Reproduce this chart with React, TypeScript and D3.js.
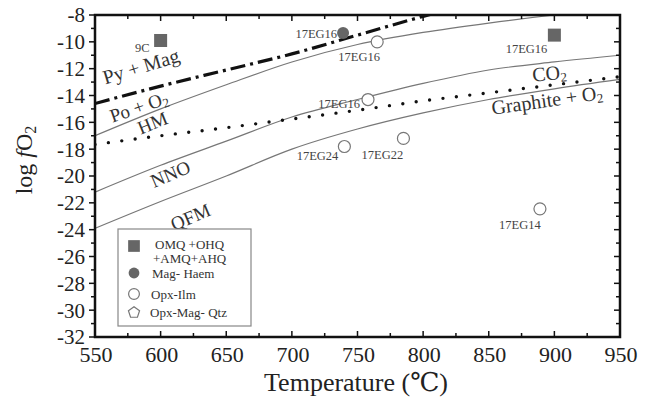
import React from 'react';
import * as d3 from 'd3';

// buffer curves, log fO2 against T (°C)
const temps = [550, 600, 650, 700, 750, 800, 850, 900, 950];
const pyMag = [-14.6, -13.3, -12.1, -10.9, -9.5, -8.1, -6.8];
const hm = [-17.0, -15.0, -13.2, -11.5, -10.2, -9.3, -8.6, -8.0, -7.5];
const graphite = [-17.65, -17.0, -16.4, -15.75, -15.1, -14.4, -13.8, -13.2, -12.6];
const nno = [-21.2, -19.2, -17.4, -15.6, -14.3, -13.1, -12.1, -11.5, -11.0];
const qfm = [-23.9, -21.9, -20.0, -18.0, -16.5, -15.3, -14.3, -13.5, -12.8];

// samples
const sampleT = [600, 900, 739, 765, 758, 740, 785, 889];
const sampleF = [-9.9, -9.5, -9.35, -10.0, -14.3, -17.8, -17.2, -22.45];
const sampleName = ['9C', '17EG16', '17EG16', '17EG16', '17EG16', '17EG24', '17EG22', '17EG14'];
const sampleKind = ['square', 'square', 'filled', 'open', 'open', 'open', 'open', 'open'];

const xTicks = [550, 600, 650, 700, 750, 800, 850, 900, 950];
const yTicks = [-8, -10, -12, -14, -16, -18, -20, -22, -24, -26, -28, -30, -32];

const legendItems = ['square', 'filled', 'open', 'pentagon'];
const legendText = [['OMQ +OHQ', '+AMQ+AHQ'], ['Mag- Haem'], ['Opx-Ilm'], ['Opx-Mag- Qtz']];

// label placement next to each sample marker
const labelDx = [-11, -7, -6, -18, -8, -6, -21, -20];
const labelDy = [12, 18, 5, 19, 8, 14, 21, 20];
const labelAnchor = ['end', 'end', 'end', 'middle', 'end', 'end', 'middle', 'middle'];

const W = 648, H = 404;
const serif = 'Liberation Serif, DejaVu Serif, serif';

export default function App() {
  const x = d3.scaleLinear().domain([550, 950]).range([95, 620]);
  const y = d3.scaleLinear().domain([-32, -8]).range([337, 15]);

  const curve = (vals: number[]) =>
    d3.line<number>()
      .x((_, i) => x(temps[i]))
      .y((d) => y(d))
      .curve(d3.curveMonotoneX)(vals) || '';

  const marker = (kind: string, cx: number, cy: number, key: string, s = 1) => {
    if (kind === 'square')
      return <rect key={key} x={cx - 6.5 * s} y={cy - 6.5 * s} width={13 * s} height={13 * s} fill="#666" />;
    if (kind === 'filled')
      return <circle key={key} cx={cx} cy={cy} r={6 * s} fill="#666" />;
    if (kind === 'open')
      return <circle key={key} cx={cx} cy={cy} r={6 * s} fill="white" stroke="#777" strokeWidth={1.2} />;
    const pts = d3.range(5).map((i) => {
      const a = -Math.PI / 2 + (i * 2 * Math.PI) / 5;
      return [cx + 6.5 * s * Math.cos(a), cy + 6.5 * s * Math.sin(a) + 0.5].join(',');
    });
    return <polygon key={key} points={pts.join(' ')} fill="white" stroke="#777" strokeWidth={1.2} />;
  };

  const minorX = d3.range(550, 951, 25);
  const minorY = d3.range(-32, -7, 1);
  const [x0, x1] = x.range();
  const [y0, y1] = y.range();

  const lineLabel = (txt: React.ReactNode, cx: number, cy: number, ang: number, size: number) => (
    <text x={cx} y={cy} transform={`rotate(${ang},${cx},${cy})`} textAnchor="middle"
      fontSize={size} fill="#333">{txt}</text>
  );

  const legendY = [246, 273, 294, 312];
  const legendTextX = [155, 152, 151, 150];

  return (
    <svg width={W} height={H}
      style={{ position: 'absolute', left: 0, top: 0, background: 'white', fontFamily: serif }}>
      <defs>
        <clipPath id="plot">
          <rect x={x0} y={y1} width={x1 - x0} height={y0 - y1} />
        </clipPath>
      </defs>

      <g clipPath="url(#plot)" fill="none">
        <path d={curve(hm)} stroke="#777" strokeWidth={1.2} />
        <path d={curve(nno)} stroke="#777" strokeWidth={1.2} />
        <path d={curve(qfm)} stroke="#777" strokeWidth={1.2} />
        <path d={curve(graphite)} stroke="#111" strokeWidth={3.4} strokeDasharray="0,13.5" strokeLinecap="round" />
        <path d={curve(pyMag)} stroke="#111" strokeWidth={3.2} strokeDasharray="15,5,3,5" />
      </g>

      {lineLabel('Py + Mag', 143, 73, -17, 20)}
      {lineLabel(<>Po + O<tspan fontSize={13} dy={3}>2</tspan></>, 141, 113, -19, 19)}
      {lineLabel('HM', 155, 129, -22, 19)}
      {lineLabel('NNO', 173, 180, -23, 19)}
      {lineLabel('QFM', 193, 223, -23, 19)}
      {lineLabel(<>CO<tspan fontSize={13} dy={3}>2</tspan></>, 550, 80, -6, 20)}
      {lineLabel(<>Graphite + O<tspan fontSize={13} dy={3}>2</tspan></>, 548, 107, -8, 20)}

      {sampleT.map((t, i) => (
        <g key={'s' + i}>
          {marker(sampleKind[i], x(t), y(sampleF[i]), 'm' + i)}
          <text x={x(t) + labelDx[i]} y={y(sampleF[i]) + labelDy[i]} textAnchor={labelAnchor[i]}
            fontSize={12.5} fill="#444">{sampleName[i]}</text>
        </g>
      ))}

      {/* frame and ticks */}
      <rect x={x0} y={y1} width={x1 - x0} height={y0 - y1} fill="none" stroke="#111" strokeWidth={2.5} />
      {minorX.map((v) => (
        <g key={'tx' + v} stroke="#111" strokeWidth={1.5}>
          <line x1={x(v)} x2={x(v)} y1={y0} y2={y0 - (v % 50 === 0 ? 6 : 4)} />
          <line x1={x(v)} x2={x(v)} y1={y1} y2={y1 + (v % 50 === 0 ? 6 : 4)} />
        </g>
      ))}
      {minorY.map((v) => (
        <g key={'ty' + v} stroke="#111" strokeWidth={1.5}>
          <line x1={x0} x2={x0 - (v % 2 === 0 ? 6 : 4)} y1={y(v)} y2={y(v)} />
          <line x1={x1} x2={x1 - (v % 2 === 0 ? 6 : 4)} y1={y(v)} y2={y(v)} />
        </g>
      ))}
      {yTicks.map((v) => (
        <text key={'ly' + v} x={85} y={y(v)} dy="0.35em" textAnchor="end"
          fontSize={21} fill="#222">{v}</text>
      ))}
      {xTicks.map((v) => (
        <text key={'lx' + v} x={x(v) + 1} y={362} textAnchor="middle"
          fontSize={22} fill="#222">{v}</text>
      ))}

      <text x={356} y={391} textAnchor="middle" fontSize={26} fill="#222">
        Temperature (℃)
      </text>
      <text transform="translate(32,160) rotate(-90)" textAnchor="middle" fontSize={24} fill="#222">
        log <tspan fontStyle="italic">f</tspan>O<tspan fontSize={16} dy={4}>2</tspan>
      </text>

      {/* legend */}
      <rect x={118} y={229} width={133} height={97} fill="white" stroke="#888" strokeWidth={1.2} />
      {legendItems.map((k, i) => (
        <g key={'lg' + i}>
          {marker(k, 134, legendY[i], 'lm' + i, 0.9)}
          {legendText[i].map((t, j) => (
            <text key={j} x={legendTextX[i] - j * 2} y={legendY[i] + (i === 0 ? 3 : 5) + j * 14}
              fontSize={13} fill="#333">{t}</text>
          ))}
        </g>
      ))}
    </svg>
  );
}
